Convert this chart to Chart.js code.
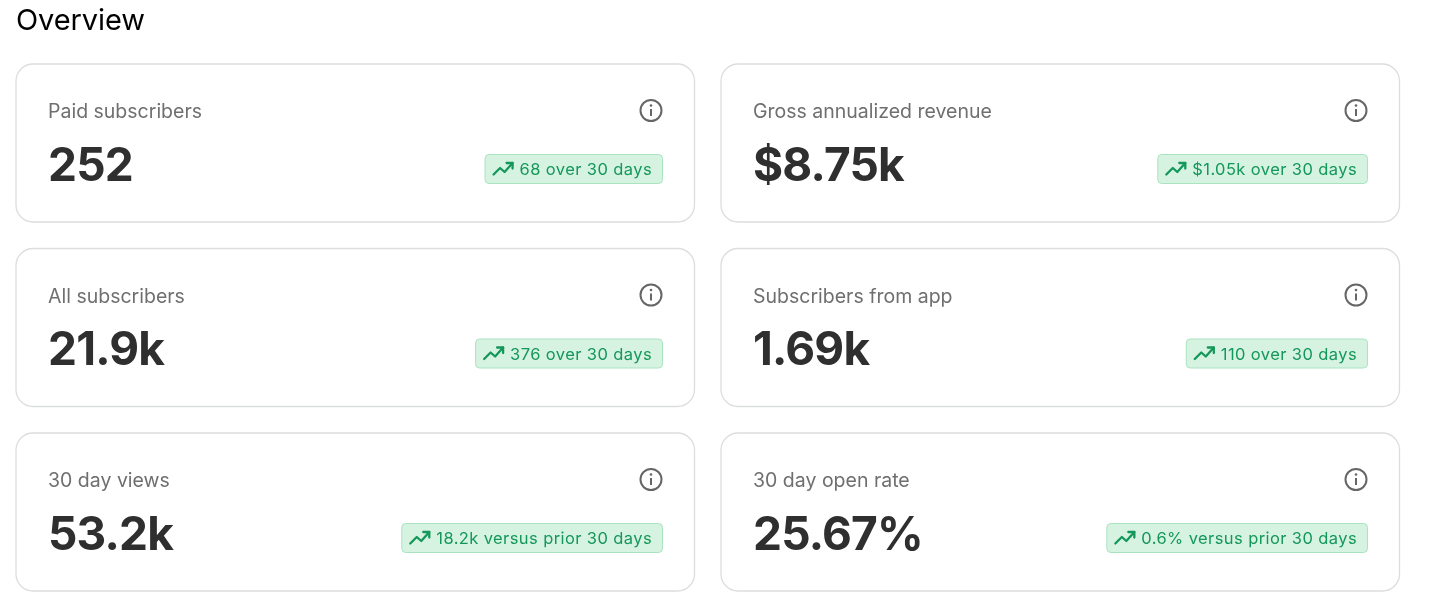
<!DOCTYPE html>
<html><head><meta charset="utf-8">
<style>html,body{margin:0;padding:0;background:#fff;overflow:hidden}#wrap{position:absolute;left:0;top:0;width:1456px;height:609px}</style>
<script src="https://cdn.jsdelivr.net/npm/chart.js@4"></script>
</head><body><div id="wrap"><canvas id="c" width="1456" height="609" role="img" aria-label="Overview metric cards"></canvas></div>
<script>
const heading = "Overview";
const metricLabels = ["Paid subscribers","Gross annualized revenue","All subscribers","Subscribers from app","30 day views","30 day open rate"];
const metricValues = ["252","$8.75k","21.9k","1.69k","53.2k","25.67%"];
const metricChanges = ["68 over 30 days","$1.05k over 30 days","376 over 30 days","110 over 30 days","18.2k versus prior 30 days","0.6% versus prior 30 days"];

const cols = [15.5, 720.5], rows = [63.5, 248, 432.5], cw = 678.5, ch = 158;
const FONT = 'Inter, "Liberation Sans", sans-serif';

function rr(ctx,x,y,w,h,r){ctx.beginPath();ctx.roundRect(x,y,w,h,r);}
const cards = {
  id:'cards',
  afterDraw(chart){
    const ctx = chart.ctx;
    ctx.save();
    ctx.textBaseline='alphabetic';ctx.textAlign='left';
    ctx.fillStyle='#000';ctx.font='400 29px '+FONT;ctx.letterSpacing='-0.1px';
    ctx.fillText(heading,16,30);
    metricLabels.forEach((label,i)=>{
      const x=cols[i%2], y=rows[Math.floor(i/2)];
      rr(ctx,x+.5,y+.5,cw,ch,17);ctx.fillStyle='#fff';ctx.fill();
      ctx.strokeStyle='#dcdedd';ctx.lineWidth=1.3;ctx.stroke();
      ctx.fillStyle='#6f6f6f';ctx.font='400 19.5px '+FONT;ctx.letterSpacing='0px';
      ctx.fillText(label,x+32.5,y+54.5);
      ctx.fillStyle='#2f2f2f';ctx.font='700 46px '+FONT;ctx.letterSpacing='-0.8px';
      ctx.fillText(metricValues[i],x+32.5,y+117);
      // info icon
      const ix=x+635.5,iy=y+47;
      ctx.strokeStyle='#666';ctx.lineWidth=2;ctx.beginPath();ctx.arc(ix,iy,10.5,0,Math.PI*2);ctx.stroke();
      ctx.fillStyle='#666';ctx.fillRect(ix-1,iy-1.5,2,7);ctx.beginPath();ctx.arc(ix,iy-5,1.3,0,Math.PI*2);ctx.fill();
      // badge
      ctx.font='400 16.5px '+FONT;ctx.letterSpacing='0.4px';
      const txt=metricChanges[i],tw=ctx.measureText(txt).width,right=x+647.5,tl=right-11-tw,bl=tl-35,by=y+90.5;
      rr(ctx,bl+.5,by+.5,right-bl-1,29,4);ctx.fillStyle='#d6f3e2';ctx.fill();ctx.strokeStyle='#a9e3c0';ctx.lineWidth=1;ctx.stroke();
      ctx.fillStyle='#14975a';ctx.fillText(txt,tl,by+21);
      const a=tl-26,b=by+22;
      ctx.strokeStyle='#14975a';ctx.lineWidth=2.3;ctx.lineJoin='round';ctx.lineCap='round';
      ctx.beginPath();ctx.moveTo(a,b-1.5);ctx.lineTo(a+6.5,b-8);ctx.lineTo(a+11,b-4);ctx.lineTo(a+19,b-13);ctx.stroke();
      ctx.beginPath();ctx.moveTo(a+13,b-13);ctx.lineTo(a+19,b-13);ctx.lineTo(a+19,b-7.5);ctx.stroke();
      ctx.lineCap='butt';
    });
    ctx.restore();
  }
};
new Chart(document.getElementById('c'),{
  type:'bar',
  data:{labels:metricLabels,datasets:[{data:[],label:'metrics'}]},
  options:{responsive:false,animation:false,devicePixelRatio:1,
    plugins:{legend:{display:false},tooltip:{enabled:false},title:{display:false}},
    scales:{x:{display:false},y:{display:false}}},
  plugins:[cards]
});
</script></body></html>
